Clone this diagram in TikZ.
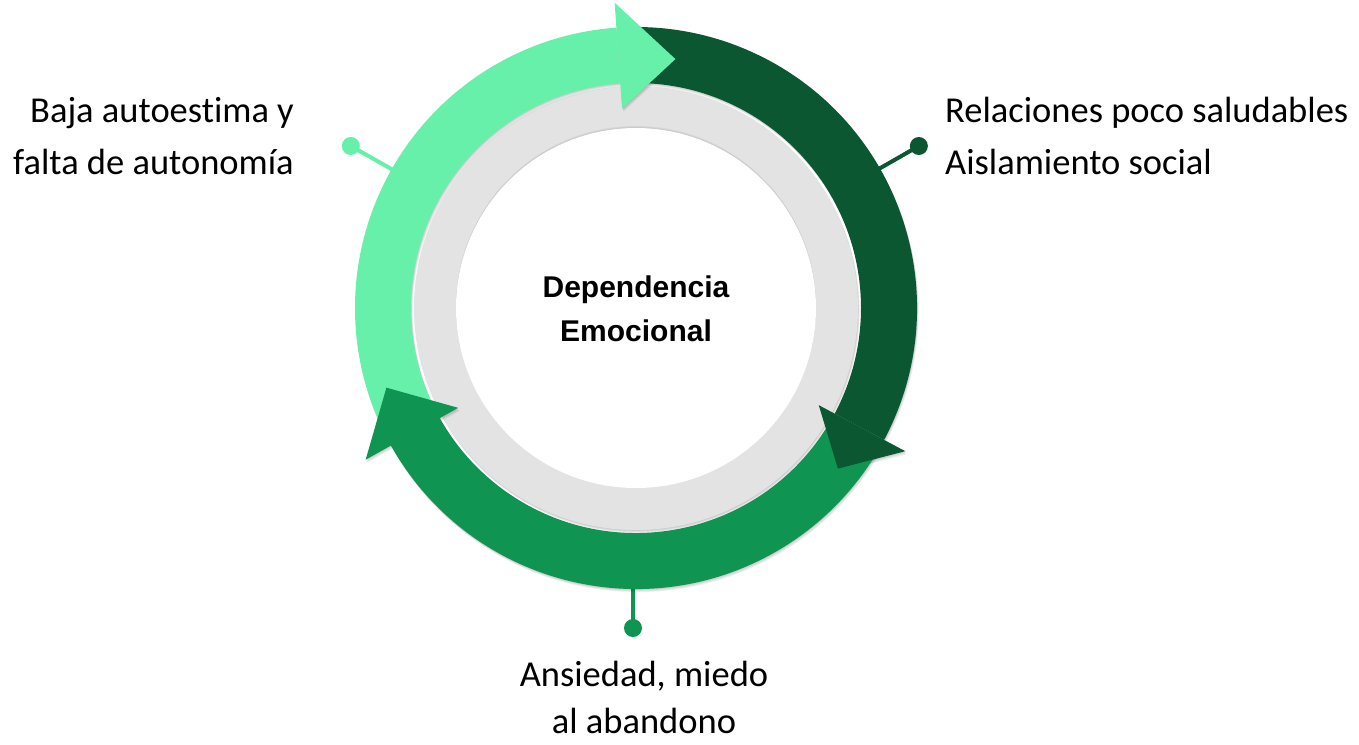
\documentclass[tikz,border=0pt]{standalone}
\usepackage{fontspec}
\setmainfont{Carlito}[Ligatures=NoCommon]
\newfontfamily\titlefont{Liberation Sans}
\definecolor{lightg}{HTML}{66F0AA}
\definecolor{darkg}{HTML}{0B5732}
\definecolor{midg}{HTML}{0F9452}
\definecolor{greyring}{HTML}{E3E3E3}
\begin{document}
\begin{tikzpicture}[x=1pt,y=1pt,
  labeltext/.style={font=\fontsize{36.5}{52}\selectfont, inner sep=0pt},
  dotnode/.style={circle, inner sep=0pt, minimum size=18pt},
  conn/.style={line width=4pt},
  shadowfill/.style={black, opacity=0.05}]
\useasboundingbox (-636,-436) rectangle (723,308);
\fill[white] (-636,-436) rectangle (723,308);

% grey disc with soft shadow
\foreach \i in {1,...,4} {\fill[shadowfill] (0.4*\i,-0.8*\i) circle (222);}
\fill[greyring] (0,0) circle (222);
\foreach \i in {1,...,3} {\fill[black,opacity=0.04] (0,0.7*\i) circle (180);}
\fill[white] (0,0) circle (180);

% connectors
\node[dotnode, fill=lightg] (d1) at (150.4:328) {};
\coordinate (a1) at (150.4:265);
\draw[conn, lightg] (d1.center) -- (a1);
\node[dotnode, fill=darkg] (d2) at (29.8:326) {};
\coordinate (a2) at (29.8:265);
\draw[conn, darkg] (d2.center) -- (a2);
\node[dotnode, fill=midg] (d3) at (-3,-320) {};
\coordinate (a3) at (-3,-265);
\draw[conn, midg] (d3.center) -- (a3);

% arc shadows
\foreach \i in {1,...,4} {
  \fill[shadowfill] ([shift={(0.4*\i,-0.8*\i)}]209:225) arc[start angle=209, end angle=94, radius=225] -- ([shift={(0.4*\i,-0.8*\i)}]94:281) arc[start angle=94, end angle=209, radius=281] -- cycle;
  \fill[shadowfill] ([shift={(0.4*\i,-0.8*\i)}]93:225) arc[start angle=93, end angle=-28, radius=225] -- ([shift={(0.4*\i,-0.8*\i)}]-28:281) arc[start angle=-28, end angle=93, radius=281] -- cycle;
  \fill[shadowfill] ([shift={(0.4*\i,-0.8*\i)}]-30:225) arc[start angle=-30, end angle=-151, radius=225] -- ([shift={(0.4*\i,-0.8*\i)}]-151:281) arc[start angle=-151, end angle=-30, radius=281] -- cycle;
  \fill[shadowfill] ([shift={(0.4*\i,-0.8*\i)}]94:200) -- ([shift={(0.4*\i,-0.8*\i)}]81:252) -- ([shift={(0.4*\i,-0.8*\i)}]94:306) -- cycle;
  \fill[shadowfill] ([shift={(0.4*\i,-0.8*\i)}]-28:207) -- ([shift={(0.4*\i,-0.8*\i)}]-38.5:258) -- ([shift={(0.4*\i,-0.8*\i)}]-28:305) -- cycle;
  \fill[shadowfill] ([shift={(0.4*\i,-0.8*\i)}]209.3:204) -- ([shift={(0.4*\i,-0.8*\i)}]197.7:262) -- ([shift={(0.4*\i,-0.8*\i)}]209.3:310) -- cycle;
}

% arc bodies
\fill[lightg] (207:225) arc[start angle=207, end angle=94, radius=225] -- (94:281) arc[start angle=94, end angle=207, radius=281] -- cycle;
\fill[darkg] (92:225) arc[start angle=92, end angle=-28, radius=225] -- (-28:281) arc[start angle=-28, end angle=92, radius=281] -- cycle;
\fill[midg] (-30:225) arc[start angle=-30, end angle=-151, radius=225] -- (-151:281) arc[start angle=-151, end angle=-30, radius=281] -- cycle;

% arrow heads
\fill[lightg] (94:200) -- (81:252) -- (94:306) -- cycle;
\fill[darkg] (-28:207) -- (-38.5:258) -- (-28:305) -- cycle;
\fill[midg] (209.3:204) -- (197.7:262) -- (209.3:310) -- cycle;

% texts
\node[font=\titlefont\bfseries\fontsize{30}{44}\selectfont, align=center, inner sep=0pt] (title) at (0,-1) {Dependencia\\Emocional};
\node[labeltext, align=right, anchor=base east] (t1) at (-342,133) {Baja autoestima y\\falta de autonomía};
\node[labeltext, align=left, anchor=base west] (t2) at (309,133) {Relaciones poco saludables\\Aislamiento social};
\node[labeltext, font=\fontsize{36.5}{47}\selectfont, align=center, anchor=base] (t3) at (8,-425) {Ansiedad, miedo\\al abandono};
\end{tikzpicture}
\end{document}
